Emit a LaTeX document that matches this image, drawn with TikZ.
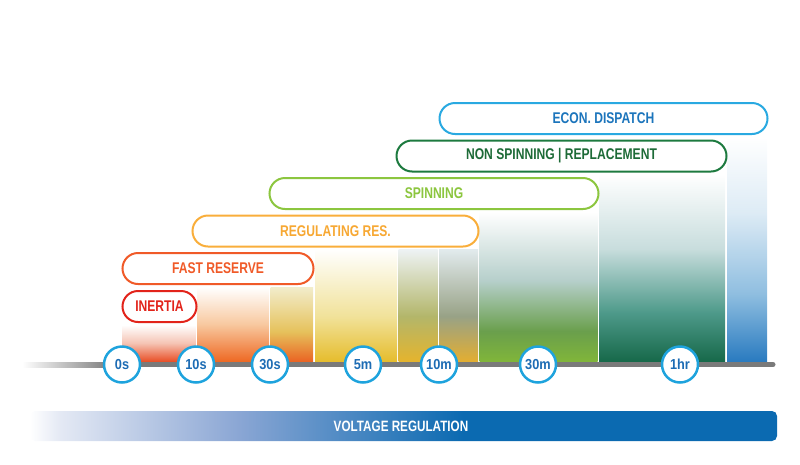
\documentclass[tikz,border=0pt]{standalone}
\usepackage{fontspec}
\newfontfamily\cf{Liberation Sans}[FakeStretch=0.78]
\newfontfamily\cft{Liberation Sans}[FakeStretch=0.88]
\definecolor{axisgray}{HTML}{7A7A7A}
\definecolor{tickblue}{HTML}{1EA3DD}
\definecolor{tickText}{HTML}{1D6CB4}
\definecolor{econC}{HTML}{29A9E1}
\definecolor{econT}{HTML}{1C75BC}
\definecolor{nonC}{HTML}{1D7A3F}
\definecolor{nonT}{HTML}{1D6B37}
\definecolor{spinC}{HTML}{8CC63F}
\definecolor{regC}{HTML}{F9AE3B}
\definecolor{regT}{HTML}{F7A833}
\definecolor{fastC}{HTML}{F05A28}
\definecolor{inerC}{HTML}{E2231A}
\definecolor{vblue}{HTML}{0B6AB1}
\definecolor{vmid}{HTML}{8AA6D4}
\definecolor{vlight}{HTML}{E4E9F4}
% column colours
\definecolor{aB}{HTML}{E9522A}\definecolor{aM}{HTML}{F5C4B4}
\definecolor{bB}{HTML}{EE6A25}\definecolor{bM}{HTML}{F8C9A0}
\definecolor{cB}{HTML}{EA6524}\definecolor{cM}{HTML}{E6C25C}\definecolor{cT}{HTML}{F2EDCC}
\definecolor{dB}{HTML}{E6BD2E}\definecolor{dM}{HTML}{F1E29A}
\definecolor{eB}{HTML}{E4B42E}\definecolor{eM}{HTML}{B3B66A}\definecolor{eT}{HTML}{EEF3F5}
\definecolor{fB}{HTML}{E2AE32}\definecolor{fM}{HTML}{98A286}\definecolor{fT}{HTML}{E2EBEE}
\definecolor{gB}{HTML}{80B53A}\definecolor{gM}{HTML}{6A9F4C}\definecolor{gU}{HTML}{B6CFCB}
\definecolor{hB}{HTML}{17694A}\definecolor{hM}{HTML}{4E9A8A}\definecolor{hU}{HTML}{C8DDDD}
\definecolor{iB}{HTML}{2A7BC0}\definecolor{iM}{HTML}{8FBEE0}\definecolor{iU}{HTML}{DDEBF5}
\pgfdeclareverticalshading{colA}{100bp}{color(0bp)=(aB); color(25bp)=(aB); color(50bp)=(aM); color(75bp)=(white); color(100bp)=(white)}
\pgfdeclareverticalshading{colB}{100bp}{color(0bp)=(bB); color(25bp)=(bB); color(50bp)=(bM); color(75bp)=(white); color(100bp)=(white)}
\pgfdeclareverticalshading{colC}{100bp}{color(0bp)=(cB); color(25bp)=(cB); color(45bp)=(cM); color(75bp)=(cT); color(100bp)=(cT)}
\pgfdeclareverticalshading{colD}{100bp}{color(0bp)=(dB); color(25bp)=(dB); color(45bp)=(dM); color(75bp)=(white); color(100bp)=(white)}
\pgfdeclareverticalshading{colE}{100bp}{color(0bp)=(eB); color(25bp)=(eB); color(45bp)=(eM); color(75bp)=(eT); color(100bp)=(eT)}
\pgfdeclareverticalshading{colF}{100bp}{color(0bp)=(fB); color(25bp)=(fB); color(45bp)=(fM); color(75bp)=(fT); color(100bp)=(fT)}
\pgfdeclareverticalshading{colG}{100bp}{color(0bp)=(gB); color(25bp)=(gB); color(35bp)=(gM); color(52bp)=(gU); color(75bp)=(white); color(100bp)=(white)}
\pgfdeclareverticalshading{colH}{100bp}{color(0bp)=(hB); color(25bp)=(hB); color(38bp)=(hM); color(55bp)=(hU); color(75bp)=(white); color(100bp)=(white)}
\pgfdeclareverticalshading{colI}{100bp}{color(0bp)=(iB); color(25bp)=(iB); color(40bp)=(iM); color(58bp)=(iU); color(75bp)=(white); color(100bp)=(white)}
\pgfdeclarehorizontalshading{voltshade}{100bp}{color(0bp)=(white); color(25bp)=(white); color(27bp)=(vlight); color(39bp)=(vmid); color(54bp)=(vblue); color(100bp)=(vblue)}
\tikzset{
  pill/.style={draw=#1, line width=2pt, fill=white, rounded corners=15.5pt,
    minimum height=31pt, inner sep=0pt, font=\cf\bfseries\fontsize{15.5}{17}\selectfont},
  tick/.style={circle, draw=tickblue, line width=2.5pt, fill=white, minimum size=36pt,
    inner sep=0pt, text=tickText, font=\cft\bfseries\fontsize{14.5}{16}\selectfont},
  axisline/.style={draw=axisgray, line width=5pt, line cap=round},
}
\begin{document}
\begin{tikzpicture}[x=1pt,y=-1pt]
\useasboundingbox (0,0) rectangle (800,464);
% gradient columns
\shade[shading=colA] (122.5,325) rectangle (195.5,361);
\shade[shading=colB] (197,287) rectangle (269,361);
\shade[shading=colC] (270.5,287) rectangle (313,361);
\shade[shading=colD] (315,249) rectangle (397,361);
\shade[shading=colE] (398.5,249) rectangle (437.5,361);
\shade[shading=colF] (439,249) rectangle (478,361);
\shade[shading=colG] (479.5,212) rectangle (597.5,361);
\shade[shading=colH] (599,174) rectangle (725,361);
\shade[shading=colI] (727,137) rectangle (767,361);
% axis
\coordinate (axL) at (110,364.5);
\coordinate (axR) at (773,364.5);
\shade[left color=white, right color=axisgray] (22,362) rectangle (112,367);
\draw[axisline] (axL) -- (axR);
% ticks
\node[tick] (t0) at (122,364.5) {0s};
\node[tick] (t1) at (196,364.5) {10s};
\node[tick] (t2) at (270,364.5) {30s};
\node[tick] (t3) at (363,364.5) {5m};
\node[tick] (t4) at (439,364.5) {10m};
\node[tick] (t5) at (538,364.5) {30m};
\node[tick] (t6) at (680,364.5) {1hr};
% pills
\node[pill=econC, text=econT, minimum width=328pt] (econ) at (603.5,118.5) {ECON. DISPATCH};
\node[pill=nonC, text=nonT, minimum width=330pt] (non) at (561.5,156) {NON SPINNING | REPLACEMENT};
\node[pill=spinC, text=spinC, minimum width=329pt] (spin) at (434,193.5) {SPINNING};
\node[pill=regC, text=regT, minimum width=286pt] (reg) at (335.5,231) {REGULATING RES.};
\node[pill=fastC, text=fastC, minimum width=191pt] (fast) at (218,268.5) {FAST RESERVE};
\node[pill=inerC, text=inerC, minimum width=74pt] (iner) at (159.5,306.5) {INERTIA};
% voltage regulation bar
\shade[shading=voltshade, rounded corners=5pt] (30,411) rectangle (777,441);
\node[text=white, font=\cf\bfseries\fontsize{15}{17}\selectfont] (volt) at (401,426) {VOLTAGE REGULATION};
\end{tikzpicture}
\end{document}
